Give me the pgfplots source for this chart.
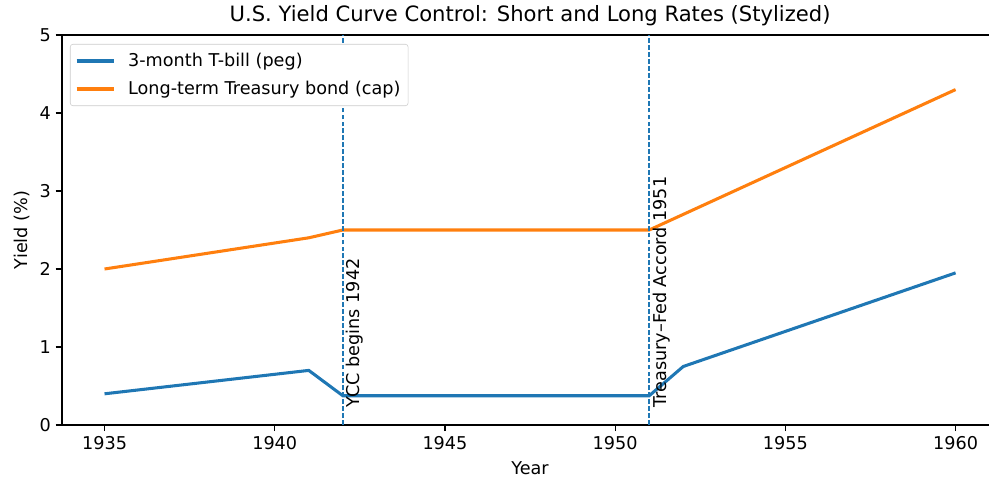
\documentclass[border=0pt]{standalone}
\usepackage{fontspec}
\setmainfont{DejaVu Sans}
\usepackage{pgfplots}
\pgfplotsset{compat=1.18}
\definecolor{mplblue}{HTML}{1F77B4}
\definecolor{mplorange}{HTML}{FF7F0E}
\begin{document}
\begin{tikzpicture}[x=1pt,y=1pt]
\begin{axis}[
  name=ax,
  scale only axis,
  width=674pt, height=280.8pt,
  xmin=1933.75, xmax=1961.25,
  ymin=0, ymax=5,
  axis lines*=left,
  xtick={1935,1940,...,1960},
  ytick={0,1,2,3,4,5},
  xticklabel style={/pgf/number format/1000 sep={}},
  /pgf/number format/assume math mode=true,
  tick align=outside,
  major tick length=4.5pt,
  tick style={black, line width=0.8pt},
  axis line style={line width=0.8pt, -},
  every tick label/.append style={font=\fontsize{12.7}{15}\selectfont},
  label style={font=\fontsize{12.7}{15}\selectfont},
  xlabel={Year},
  xlabel style={yshift=-2pt},
  ylabel={Yield (\%)},
  title={U.S. Yield Curve Control: Short and Long Rates (Stylized)},
  title style={font=\fontsize{15.2}{18}\selectfont, yshift=-3pt},
  legend style={at={(0.0085,0.977)}, anchor=north west, draw=black!20, rounded corners=2pt,
    font=\fontsize{12.7}{15}\selectfont, inner xsep=3.5pt, inner ysep=4.5pt, row sep=5pt},
  legend cell align=left,
  legend image code/.code={\draw[#1, line width=2.2pt] (0pt,0pt) -- (27pt,0pt); \path (34pt,0pt);},
  clip=false,
]
\addplot[mplblue, line width=2.2pt] coordinates {
  (1935,0.4) (1941,0.7) (1942,0.375) (1951,0.375) (1952,0.75) (1960,1.95)};
\addlegendentry{3-month T-bill (peg)}
\addplot[mplorange, line width=2.2pt] coordinates {
  (1935,2.0) (1941,2.4) (1942,2.5) (1951,2.5) (1952,2.7) (1960,4.3)};
\addlegendentry{Long-term Treasury bond (cap)}
\draw[black, line width=0.8pt] (rel axis cs:0,1) -- (rel axis cs:1,1);
\draw[mplblue, line width=1.1pt, dash pattern=on 3.5pt off 1.5pt] (axis cs:1942,0) -- (axis cs:1942,5);
\draw[mplblue, line width=1.1pt, dash pattern=on 3.5pt off 1.5pt] (axis cs:1951,0) -- (axis cs:1951,5);
\node[rotate=90, anchor=north west, inner sep=0pt, font=\fontsize{12.7}{15}\selectfont] at (axis cs:1942.1,0.22) {YCC begins 1942};
\node[rotate=90, anchor=north west, inner sep=0pt, font=\fontsize{12.7}{15}\selectfont] at (axis cs:1951.1,0.22) {Treasury–Fed Accord 1951};
\end{axis}
\pgfresetboundingbox
\path[use as bounding box] ([xshift=-44.64pt,yshift=-41.76pt]ax.south west) rectangle ([xshift=667.44pt,yshift=25.2pt]ax.north west);
\end{tikzpicture}
\end{document}
